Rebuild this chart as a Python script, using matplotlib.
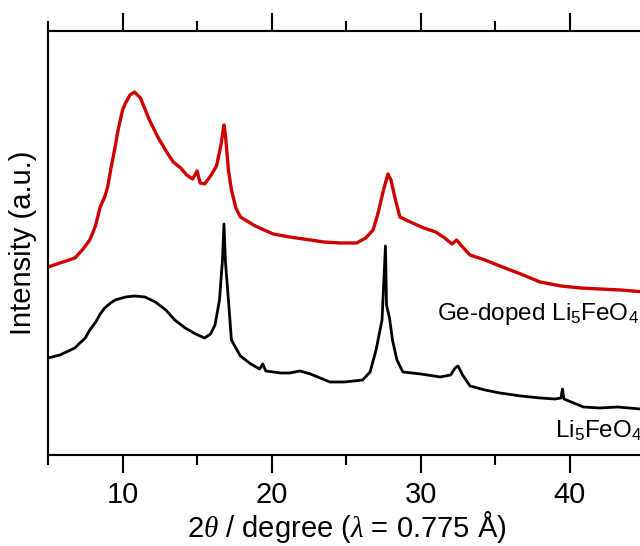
import matplotlib
matplotlib.use('Agg')
import matplotlib.pyplot as plt
from matplotlib.ticker import MultipleLocator

plt.rcParams['font.family'] = ['Liberation Sans', 'DejaVu Sans']
plt.rcParams['mathtext.fontset'] = 'custom'
plt.rcParams['mathtext.rm'] = 'Liberation Sans'
plt.rcParams['mathtext.it'] = 'Liberation Serif:italic'

# ---- data (2theta in degree, intensity in a.u.) ----
tt_pristine = [5.0, 5.8, 6.8, 7.0, 7.5, 7.8, 8.2, 8.5, 8.8, 9.2, 9.5, 10.2, 10.8,
               11.5, 12.2, 12.9, 13.5, 14.2, 14.9, 15.5, 15.9, 16.2, 16.5, 16.7,
               16.8, 16.9, 17.1, 17.3, 17.9, 18.6, 19.2, 19.4, 19.6, 20.6, 21.2,
               21.9, 22.6, 23.9, 24.9, 26.1, 26.6, 27.0, 27.4, 27.63, 27.7, 27.9,
               28.1, 28.4, 28.8, 30.0, 31.3, 32.0, 32.3, 32.5, 32.8, 33.3, 34.3,
               35.3, 36.7, 38.0, 39.0, 39.4, 39.5, 39.6, 40.9, 42.0, 43.2, 44.7,
               45.0]
int_pristine = [97, 100, 107, 110, 117, 125, 133, 141, 147, 152, 155, 158, 159,
                158, 153, 145, 135, 127, 121, 117, 121, 130, 155, 195,
                231, 193, 155, 115, 99, 91, 86, 91, 84, 82, 82,
                84, 81, 73, 73, 75, 83, 105, 135, 209, 150, 137,
                115, 95, 83, 81, 78, 80, 87, 89, 80, 69, 65,
                62, 59, 57, 56, 57, 66, 56, 48, 47, 48, 46,
                46]

tt_doped = [5.0, 5.8, 6.8, 7.3, 7.8, 8.0, 8.2, 8.5, 8.8, 9.0, 9.2, 9.5, 9.7,
            10.0, 10.2, 10.5, 10.8, 11.2, 11.8, 12.4, 13.0, 13.4, 13.9, 14.3,
            14.7, 15.0, 15.2, 15.5, 15.9, 16.3, 16.6, 16.8, 16.9, 17.1, 17.3,
            17.6, 17.9, 18.9, 20.1, 21.2, 22.6, 23.5, 24.6, 25.7, 26.3, 26.8,
            27.1, 27.5, 27.8, 28.0, 28.3, 28.6, 29.3, 30.2, 31.0, 31.6, 32.1,
            32.4, 32.8, 33.3, 34.3, 35.3, 36.7, 38.0, 39.4, 40.7, 42.0, 43.4,
            45.0]
int_doped = [188, 192, 197, 205, 215, 222, 230, 248, 258, 268, 285, 308, 325,
             345, 352, 360, 363, 357, 335, 317, 302, 293, 287, 280,
             276, 284, 272, 271, 279, 289, 310, 330, 320, 285, 265,
             247, 238, 229, 221, 218, 215, 213, 212, 212, 217, 225,
             240, 265, 281, 275, 255, 238, 233, 227, 223, 217, 211,
             215, 208, 200, 195, 189, 181, 173, 169, 167, 166, 165,
             163]

label_doped = 'Ge-doped Li$_5$FeO$_4$'
label_pristine = 'Li$_5$FeO$_4$'

fig = plt.figure(figsize=(6.4, 5.46), dpi=100)
ax = fig.add_axes([0.075, 0.1667, 0.932, 0.7765])

ax.plot(tt_doped, int_doped, color='#cc0000', lw=2.4)
ax.plot(tt_pristine, int_pristine, color='black', lw=2.0)

ax.text(31.1, 135, label_doped, fontsize=17.5, color='black', va='baseline')
ax.text(39.0, 17, label_pristine, fontsize=17.5, color='black', va='baseline')

ax.set_xlim(5, 45)
ax.set_ylim(0, 424)

ax.spines['right'].set_visible(False)
for s in ['left', 'top', 'bottom']:
    ax.spines[s].set_linewidth(1.5)

ax.xaxis.set_major_locator(MultipleLocator(10))
ax.xaxis.set_minor_locator(MultipleLocator(5))
ax.tick_params(axis='x', which='major', direction='out', length=13, width=1.5,
               top=True, labeltop=False, labelsize=21, pad=6)
ax.tick_params(axis='x', which='minor', direction='out', length=7, width=1.5,
               top=True)
ax.set_yticks([])

ax.set_xlabel(r'2$\theta$ / degree ($\lambda$ = 0.775 Å)', fontsize=21, labelpad=0)
ax.set_ylabel('Intensity (a.u.)', fontsize=21, labelpad=8)

fig.savefig('out.png', dpi=100)
